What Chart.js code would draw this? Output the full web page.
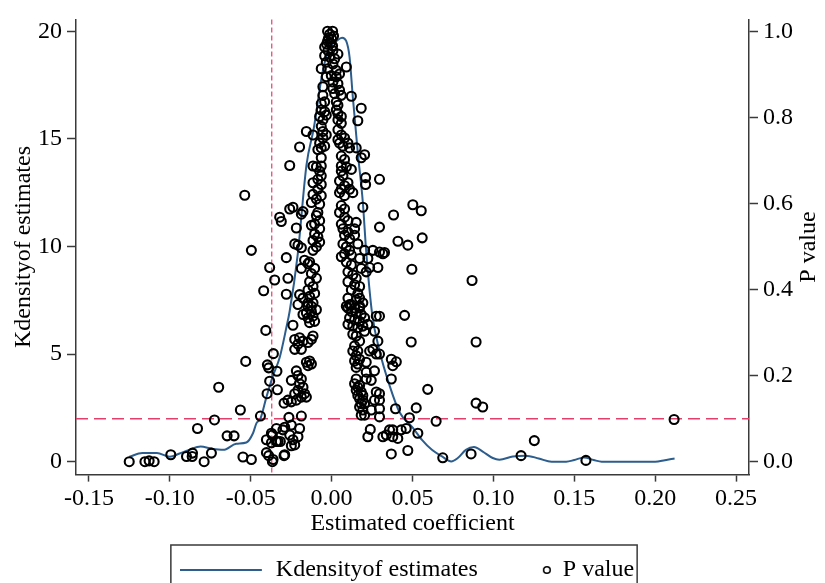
<!DOCTYPE html>
<html>
<head>
<meta charset="utf-8">
<script src="https://cdn.jsdelivr.net/npm/chart.js@4.4.1/dist/chart.umd.min.js"></script>
<style>
html,body{margin:0;padding:0;background:#fff;}
#wrap{width:825px;height:583px;position:relative;overflow:hidden;}
</style>
</head>
<body>
<div id="wrap"><canvas id="c" width="825" height="583"></canvas></div>
<script>
// ---------- DATA ----------
const seriesNames = ['Kdensityof estimates', 'P value'];
const xTitle = 'Estimated coefficient';
const yTitle = 'Kdensityof estimates';
const y1Title = 'P value';

const xTicks = [-0.15, -0.10, -0.05, 0.00, 0.05, 0.10, 0.15, 0.20, 0.25];
const yTicks = [0, 5, 10, 15, 20];
const pTicks = [0.0, 0.2, 0.4, 0.6, 0.8, 1.0];

const refX = -0.037;   // vertical reference line (estimated coefficient)
const refP = 0.1;      // horizontal reference line (p value)

// Kernel density of estimates
const kdX = [-0.125,-0.117,-0.108,-0.100,-0.094,-0.088,-0.081,-0.074,-0.067,-0.059,-0.0527,-0.0486,-0.0465,-0.044,-0.0403,-0.0366,-0.0321,-0.028,-0.0259,-0.0210,-0.0155,-0.0110,-0.0056,-0.0012,0.003,0.0065,0.009,0.0111,0.0131,0.0162,0.0193,0.0214,0.025,0.0296,0.036,0.042,0.050,0.056,0.062,0.0687,0.0739,0.078,0.083,0.088,0.0934,0.0996,0.1037,0.112,0.120,0.128,0.136,0.145,0.150,0.156,0.162,0.167,0.200,0.206,0.212];
const kdY = [0.23,0.40,0.40,0.23,0.38,0.55,0.70,0.60,0.55,0.83,0.89,1.32,1.78,2.0,3.0,3.92,4.84,6.22,7.0,9.6,13.8,15.5,18.1,19.25,19.55,19.7,19.55,18.8,16.95,14.35,12.05,9.75,6.9,5.15,3.5,2.3,1.6,1.0,0.55,0.22,0.01,0.17,0.55,0.68,0.47,0.17,0.09,0.24,0.28,0.15,0.0,0.0,0.08,0.2,0.08,0.0,0.0,0.07,0.15];

// Estimated coefficients and their p values
const estX = [
-0.0025,0.0006,-0.0012,-0.0019,0.0,-0.0025,-0.0006,-0.0031,0.0012,0.0006,-0.0043,-0.0023,0.0008,-0.0043,0.0039,-0.0012,0.0019,-0.0033,0.0008,-0.0064,
0.0091,-0.0023,0.0029,-0.0002,0.0029,0.0049,-0.0033,0.0008,0.0039,-0.0054,0.0008,0.0049,0.0019,-0.0054,0.0122,0.006,-0.0064,-0.0043,0.0029,0.0039,
0.0183,-0.0064,-0.0043,-0.0033,0.0029,0.0039,0.006,0.0162,-0.0074,-0.0054,0.0039,0.006,-0.0156,-0.0115,-0.0064,-0.0054,-0.0033,-0.0054,0.0039,0.006,
0.008,0.0039,-0.0198,-0.0074,-0.0064,-0.0043,-0.0085,0.0049,0.007,0.0101,0.0111,0.0152,0.0204,0.0183,-0.0064,0.006,0.008,-0.0259,-0.0115,-0.0094,
-0.0064,0.006,0.0091,0.0122,
-0.0074,-0.0064,-0.0085,-0.0115,-0.0064,-0.0085,-0.0115,-0.0064,-0.0094,-0.0125,-0.0074,
0.006,0.007,0.0049,0.008,0.006,0.0049,0.008,0.0101,0.0111,0.0131,
0.021,0.021,0.0296,0.0193,0.0296,
-0.0239,-0.0259,-0.0177,-0.0187,-0.0321,-0.0311,-0.0218,
-0.0085,-0.0094,-0.0074,-0.0105,-0.0125,-0.0074,-0.0105,-0.0085,-0.0115,-0.0074,-0.0094,-0.0115,
0.006,0.008,0.0049,0.008,0.0101,0.006,0.007,0.0101,0.008,0.0111,0.007,0.0091,0.0111,0.008,0.0122,0.006,
0.0152,0.0142,0.0142,0.0162,
-0.0228,-0.0208,-0.0187,-0.028,-0.0167,-0.0146,-0.0187,-0.0383,-0.0352,-0.042,-0.027,-0.028,
0.0204,0.0255,0.0296,0.0327,0.0173,0.0224,0.0183,0.0235,0.0286,
0.0091,0.0122,0.0101,0.0131,0.0152,0.0101,0.0142,0.0173,0.0122,0.0162,0.0101,0.0152,0.0173,0.0122,0.0101,0.0173,
-0.0136,-0.0105,-0.0125,-0.0094,-0.0136,-0.0115,-0.0146,-0.0105,-0.0136,-0.0177,-0.0198,-0.0115,-0.0146,
0.0214,-0.0537,-0.0496,
-0.0407,-0.036,-0.0531,-0.0397,-0.0389,-0.0338,-0.0383,-0.0698,-0.0335,-0.0399,-0.0564,-0.0294,-0.044,-0.0724,-0.0829,-0.0646,-0.0603,-0.0341,-0.029,-0.0366,
-0.0403,-0.0372,-0.0341,-0.0317,-0.0403,-0.0389,-0.0294,-0.0366,-0.1251,-0.1154,-0.1128,-0.1097,-0.0994,-0.0897,-0.086,-0.0862,-0.0788,-0.0743,-0.0548,-0.0496,
-0.0208,-0.0239,-0.0177,-0.0156,-0.0125,-0.0146,-0.0115,-0.0136,-0.0105,-0.0125,-0.0094,-0.0146,
-0.0228,-0.0198,-0.0208,-0.0228,-0.0187,-0.0177,-0.0146,-0.0125,-0.0115,
-0.0136,-0.0146,-0.0156,-0.0125,
-0.0249,-0.0218,-0.0208,-0.0187,-0.0198,-0.0177,-0.0208,-0.0167,-0.0228,-0.0187,-0.0156,-0.027,-0.0249,-0.0218,
-0.0264,-0.0187,-0.0372,-0.0331,-0.0249,-0.0301,-0.0259,-0.0239,-0.0228,-0.0249,-0.0208,-0.0198,-0.0362,-0.029,
0.0091,0.0111,0.0142,0.0173,0.0193,0.0122,0.0152,0.0183,0.0111,0.0142,0.0173,0.0204,0.0131,0.0101,0.0162,0.0193,0.0131,
0.0152,0.0173,0.0142,0.0162,0.0131,0.0152,0.0173,0.0142,0.0162,0.0152,
0.0152,0.0142,0.0162,0.0173,0.0152,0.0183,0.0162,0.0193,0.0173,0.0193,0.0183,0.0204,0.0173,0.0193,0.0183,0.0204,
0.0214,0.0224,0.0204,0.0276,0.0296,
0.0235,0.0255,0.0276,0.0286,0.0265,
0.0214,0.0214,0.0265,0.0245,
0.0276,0.0265,0.0296,0.0245,0.0296,
0.0224,0.0239,0.0296,0.0369,0.0378,0.0369,0.0395,
0.0317,0.0338,0.0358,0.0378,0.0369,0.0296,0.0296,
0.0492,0.0893,0.04,0.0594,0.0523,0.0893,0.0934,0.0481,0.0646,0.0378,0.0409,0.043,0.0461,0.0533,0.0471,0.0687,0.0862,0.1171,0.1253,0.1572,0.2117,0.0868,
0.0502,0.0554,0.0383,0.041,0.0471,0.056,0.0317,0.0496,0.0451
];
const pVal = [
1.0,1.0,0.993,0.984,0.982,0.977,0.972,0.970,0.989,0.966,0.963,0.955,0.955,0.943,0.947,0.940,0.936,0.928,0.924,0.913,
0.917,0.913,0.909,0.897,0.894,0.901,0.894,0.882,0.878,0.871,0.867,0.863,0.855,0.851,0.849,0.851,0.832,0.836,0.836,0.828,
0.821,0.817,0.813,0.805,0.817,0.809,0.802,0.792,0.802,0.794,0.794,0.786,0.767,0.759,0.779,0.767,0.759,0.752,0.771,0.759,
0.752,0.748,0.731,0.740,0.729,0.733,0.725,0.740,0.733,0.740,0.729,0.729,0.713,0.706,0.706,0.710,0.702,0.688,0.687,0.685,
0.687,0.687,0.685,0.679,
0.675,0.664,0.656,0.648,0.644,0.633,0.621,0.618,0.610,0.602,0.598,
0.675,0.664,0.652,0.641,0.633,0.625,0.618,0.648,0.633,0.625,
0.660,0.644,0.656,0.591,0.545,
0.591,0.587,0.581,0.575,0.568,0.558,0.543,
0.579,0.572,0.560,0.552,0.549,0.541,0.529,0.522,0.514,0.510,0.499,0.491,
0.595,0.587,0.579,0.568,0.560,0.552,0.541,0.533,0.526,0.518,0.506,0.499,0.491,0.483,0.480,0.476,
0.556,0.541,0.526,0.506,
0.506,0.503,0.497,0.474,0.468,0.460,0.449,0.451,0.422,0.397,0.426,0.389,
0.491,0.491,0.487,0.486,0.472,0.472,0.449,0.451,0.451,
0.464,0.457,0.441,0.434,0.426,0.418,0.411,0.407,0.399,0.391,0.380,0.376,0.380,0.365,0.357,0.357,
0.464,0.449,0.437,0.426,0.418,0.407,0.399,0.391,0.384,0.380,0.388,0.369,0.361,
0.441,0.619,0.491,
0.305,0.251,0.233,0.225,0.218,0.210,0.187,0.173,0.167,0.158,0.120,0.136,0.106,0.097,0.077,0.060,0.060,0.077,0.080,0.062,
0.051,0.044,0.047,0.047,0.021,0.014,0.014,0.0,0.0,0.0,0.002,0.0,0.016,0.012,0.020,0.012,0.0,0.020,0.011,0.005,
0.365,0.317,0.342,0.346,0.349,0.334,0.338,0.323,0.326,0.361,0.353,0.369,
0.284,0.288,0.273,0.261,0.261,0.280,0.277,0.284,0.292,
0.234,0.223,0.231,0.227,
0.189,0.211,0.200,0.192,0.181,0.173,0.166,0.158,0.158,0.150,0.150,0.143,0.139,0.143,
0.103,0.106,0.066,0.047,0.085,0.074,0.062,0.051,0.039,0.037,0.058,0.077,0.005,0.016,
0.361,0.365,0.357,0.361,0.369,0.349,0.346,0.342,0.334,0.330,0.326,0.334,0.315,0.319,0.311,0.315,0.296,
0.292,0.280,0.269,0.257,0.257,0.246,0.238,0.234,0.227,0.219,
0.192,0.181,0.173,0.177,0.166,0.162,0.154,0.154,0.146,0.143,0.135,0.135,0.127,0.120,0.108,0.108,
0.192,0.319,0.303,0.338,0.338,
0.257,0.261,0.250,0.280,0.303,
0.231,0.208,0.211,0.189,
0.162,0.143,0.123,0.120,0.104,
0.058,0.075,0.250,0.238,0.223,0.192,0.123,
0.058,0.062,0.074,0.058,0.018,0.158,0.143,
0.278,0.278,0.232,0.168,0.125,0.136,0.127,0.102,0.094,0.074,0.054,0.074,0.077,0.066,0.026,0.009,0.018,0.014,0.049,0.003,0.098,0.421,
0.597,0.583,0.573,0.512,0.503,0.520,0.483,0.447,0.340
];

// ---------- STYLE ----------
const FONT = "'Liberation Serif', 'Times New Roman', serif";
const AXIS = '#3a3a3a';
const LINE_COLOR = '#2c5d8c';
const REF_COLOR = '#e2406a';

Chart.defaults.font.family = FONT;
Chart.defaults.color = '#000';

function lineIcon() {
  const c = document.createElement('canvas');
  c.width = 95; c.height = 4;
  const g = c.getContext('2d');
  g.strokeStyle = LINE_COLOR; g.lineWidth = 2;
  g.beginPath(); g.moveTo(0, 2); g.lineTo(82, 2); g.stroke();
  return c;
}
function circleIcon() {
  const c = document.createElement('canvas');
  c.width = 77; c.height = 12;
  const g = c.getContext('2d');
  g.strokeStyle = '#000'; g.lineWidth = 1.6;
  g.beginPath(); g.arc(71, 6, 3.3, 0, Math.PI * 2); g.stroke();
  return c;
}
const icons = [lineIcon(), circleIcon()];

const refLines = {
  id: 'refLines',
  beforeDatasetsDraw(chart) {
    const {ctx, chartArea: ca, scales} = chart;
    ctx.save();
    ctx.strokeStyle = REF_COLOR;
    const px = scales.x.getPixelForValue(refX);
    ctx.lineWidth = 1.2; ctx.setLineDash([5, 3]);
    ctx.beginPath(); ctx.moveTo(px, ca.top); ctx.lineTo(px, ca.bottom); ctx.stroke();
    const py = scales.y1.getPixelForValue(refP);
    ctx.lineWidth = 1.5; ctx.setLineDash([12, 6]);
    ctx.beginPath(); ctx.moveTo(ca.left, py); ctx.lineTo(ca.right, py); ctx.stroke();
    ctx.restore();
  }
};

const extras = {
  id: 'extras',
  afterDraw(chart) {
    const {ctx} = chart;
    // right axis title, reading bottom-to-top
    const s = chart.scales.y1;
    ctx.save();
    ctx.fillStyle = '#000';
    ctx.font = '24px ' + FONT;
    ctx.textAlign = 'center'; ctx.textBaseline = 'middle';
    ctx.translate(s.right - 16, (chart.chartArea.top + chart.chartArea.bottom) / 2);
    ctx.rotate(-Math.PI / 2);
    ctx.fillText(y1Title, 0, 0);
    ctx.restore();
    // legend frame
    const lg = chart.legend;
    if (lg && lg.legendHitBoxes && lg.legendHitBoxes.length === 2) {
      const hb = lg.legendHitBoxes;
      const left = hb[0].left - 20;
      const right = hb[1].left + hb[1].width + 3;
      const top = hb[0].top - 13;
      ctx.save();
      ctx.strokeStyle = AXIS; ctx.lineWidth = 1.5;
      ctx.strokeRect(left, top, right - left, 80);
      ctx.restore();
    }
  }
};

const tickGrid = (len) => ({display: true, drawOnChartArea: false, drawTicks: true, tickLength: len, tickColor: AXIS, tickWidth: 1.5});
const border = {display: true, color: AXIS, width: 1.5};

new Chart(document.getElementById('c'), {
  type: 'scatter',
  data: {
    datasets: [
      {
        type: 'line',
        label: seriesNames[0],
        data: kdX.map((x, i) => ({x: x, y: kdY[i]})),
        yAxisID: 'y',
        borderColor: LINE_COLOR,
        borderWidth: 2,
        pointRadius: 0,
        fill: false,
        cubicInterpolationMode: 'monotone',
        order: 2
      },
      {
        type: 'scatter',
        label: seriesNames[1],
        data: estX.map((x, i) => ({x: x, y: pVal[i]})),
        yAxisID: 'y1',
        pointRadius: 4.5,
        borderWidth: 2.1,
        borderColor: '#000',
        backgroundColor: 'rgba(0,0,0,0)',
        order: 1
      }
    ]
  },
  options: {
    responsive: false,
    animation: false,
    devicePixelRatio: 1,
    layout: {padding: {top: 15, bottom: -9, left: 0, right: 0}},
    plugins: {
      tooltip: {enabled: false},
      legend: {
        position: 'bottom',
        labels: {
          font: {size: 24},
          color: '#000',
          padding: 0,
          usePointStyle: true,
          pointStyleWidth: 73,
          boxHeight: 24,
          generateLabels: (chart) => chart.data.datasets.map((ds, i) => ({
            text: ds.label,
            pointStyle: icons[i],
            fillStyle: 'rgba(0,0,0,0)',
            strokeStyle: 'rgba(0,0,0,0)',
            lineWidth: 0,
            hidden: false,
            datasetIndex: i,
            fontColor: '#000'
          }))
        }
      }
    },
    scales: {
      x: {
        type: 'linear', position: 'bottom',
        min: -0.158, max: 0.258,
        afterBuildTicks: (s) => { s.ticks = xTicks.map(v => ({value: v})); },
        ticks: {font: {size: 24, lineHeight: 1.1}, padding: 4, color: '#000', maxRotation: 0, autoSkip: false,
                callback: (v) => Number(v).toFixed(2)},
        grid: tickGrid(7),
        border: border,
        title: {display: true, text: xTitle, font: {size: 24, lineHeight: 1}, padding: {top: 0, bottom: 22}, color: '#000'},
        afterFit: (s) => { s.height = 83.4; }
      },
      y: {
        type: 'linear', position: 'left',
        min: -0.6, max: 20.55,
        afterBuildTicks: (s) => { s.ticks = yTicks.map(v => ({value: v})); },
        ticks: {font: {size: 24}, padding: 5, color: '#000', callback: (v) => String(v)},
        grid: tickGrid(9),
        border: border,
        title: {display: true, text: yTitle, font: {size: 24, lineHeight: 1}, padding: {top: 12, bottom: 0}, color: '#000'},
        afterFit: (s) => { s.width = 76; }
      },
      y1: {
        type: 'linear', position: 'right',
        min: -0.03, max: 1.0275,
        afterBuildTicks: (s) => { s.ticks = pTicks.map(v => ({value: v})); },
        ticks: {font: {size: 24}, padding: 5, color: '#000', callback: (v) => Number(v).toFixed(1)},
        grid: tickGrid(9),
        border: border,
        title: {display: false, text: y1Title},
        afterFit: (s) => { s.width = 76; }
      }
    }
  },
  plugins: [refLines, extras]
});
</script>
</body>
</html>
